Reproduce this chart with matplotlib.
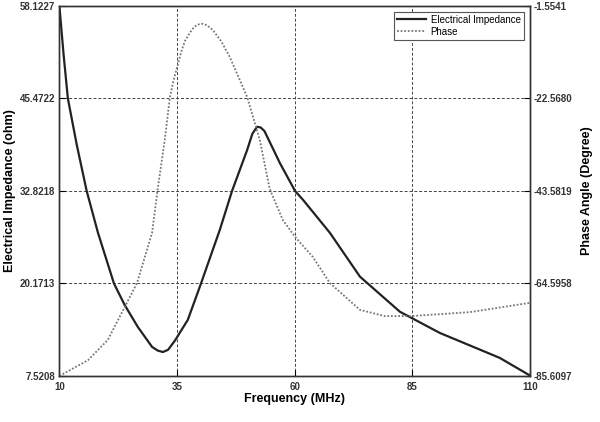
import matplotlib
matplotlib.use("Agg")
import matplotlib.pyplot as plt
import numpy as np

plt.rcParams["font.family"] = ["Liberation Sans", "DejaVu Sans"]

# data
freq_z = [10, 10.9, 11.8, 13.7, 15.8, 18.2, 21.6, 23.9, 26.7, 29.7, 30.9, 32.0,
          33.1, 34.6, 37.3, 40.1, 44.1, 46.7, 49.9, 51.0, 52.0, 52.8, 53.6,
          56.9, 60.1, 61.8, 67.5, 73.9, 82.4, 90.9, 103.6, 110]
impedance = [58.12, 51.4, 45.47, 39.1, 32.82, 27.1, 20.17, 17.2, 14.2, 11.5, 11.0,
             10.8, 11.1, 12.4, 15.2, 20.17, 27.5, 32.82, 38.4, 40.6, 41.6, 41.5,
             41.0, 36.6, 32.82, 31.6, 27.1, 21.1, 16.3, 13.4, 10.0, 7.6]

freq_p = [10, 16.1, 20.3, 23.9, 26.5, 29.7, 30.9, 32.4, 33.5, 34.3, 35.2, 36.0,
          36.7, 37.7, 38.6, 39.4, 40.3, 41.3, 42.6, 44.4, 46.2, 49.9, 52.6,
          54.7, 57.5, 60.1, 63.9, 67.5, 73.9, 79.2, 84.9, 97.3, 110]
phase = [-85.6, -82.0, -77.4, -69.9, -64.5, -53.1, -43.1, -32.0, -22.2, -18.3,
         -14.8, -11.6, -9.5, -7.7, -6.4, -5.8, -5.6, -5.9, -7.0, -9.6, -13.1,
         -22.2, -32.0, -43.1, -50.2, -54.0, -58.6, -64.5, -70.6, -72.0, -72.0,
         -71.1, -69.0]

z_lim = [7.5208, 58.1227]
p_lim = [-85.6097, -1.5541]
x_ticks = [10, 35, 60, 85, 110]

fig = plt.figure(figsize=(6, 4.22), dpi=100)
ax = fig.add_axes([0.099, 0.109, 0.784, 0.877])
ax2 = ax.twinx()

l1, = ax.plot(freq_z, impedance, color="#222222", lw=1.6, label="Electrical Impedance")
l2, = ax2.plot(freq_p, phase, color="#777777", lw=1.3, ls=(0, (1, 1)), label="Phase")

ax.set_xlim(10, 110)
ax.set_ylim(*z_lim)
ax2.set_ylim(*p_lim)
ax.set_xticks(x_ticks)
zt = np.linspace(z_lim[0], z_lim[1], 5)
pt = np.linspace(p_lim[0], p_lim[1], 5)
ax.set_yticks(zt)
ax.set_yticklabels([f"{v:.4f}" for v in zt])
ax2.set_yticks(pt)
ax2.set_yticklabels([f"{v:.4f}" for v in pt])

ax.grid(True, color="#444444", ls=(0, (3, 2)), lw=0.7)
for a in (ax, ax2):
    a.tick_params(direction="in", length=4, labelsize=7, width=0.8)
    for lab in a.get_yticklabels() + a.get_xticklabels():
        lab.set_fontweight("bold")
        lab.set_color("#333333")
    for s in a.spines.values():
        s.set_color("#333333")
        s.set_linewidth(1.0)
ax.tick_params(axis="y", pad=3)
ax2.tick_params(axis="y", pad=3)
ax.tick_params(axis="x", pad=4)

ax.set_xlabel("Frequency (MHz)", fontsize=9, fontweight="bold", labelpad=1)
ax.set_ylabel("Electrical Impedance (ohm)", fontsize=9, fontweight="bold", labelpad=3)
ax2.set_ylabel("Phase Angle (Degree)", fontsize=9, fontweight="bold", labelpad=6)

leg = ax2.legend(handles=[l1, l2], loc="upper right", fontsize=7, handlelength=3,
                 fancybox=False, framealpha=1, edgecolor="#555555",
                 borderpad=0.3, labelspacing=0.2, handletextpad=0.5,
                 bbox_to_anchor=(0.997, 0.997))
leg.get_frame().set_linewidth(0.8)

fig.savefig("out.png", dpi=100)
